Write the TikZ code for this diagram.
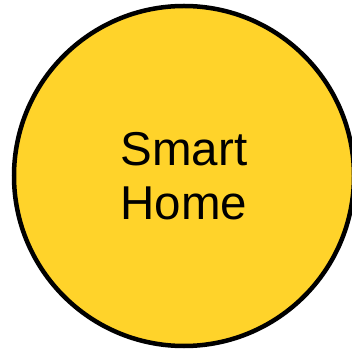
\documentclass[tikz,border=0pt]{standalone}
\usepackage{fontspec}
\setmainfont{Liberation Sans}
\definecolor{homeyellow}{HTML}{FFD32A}
\begin{document}
\begin{tikzpicture}
    \useasboundingbox (0,0) rectangle (352bp,351bp);
    \draw[fill=homeyellow,line width=4.5bp] (184bp,175bp) circle (170bp);
    \node[align=center,font=\fontsize{47.5bp}{54bp}\selectfont,inner sep=0pt] (home) at (184bp,175bp) {Smart\\Home};
  \end{tikzpicture}
\end{document}
